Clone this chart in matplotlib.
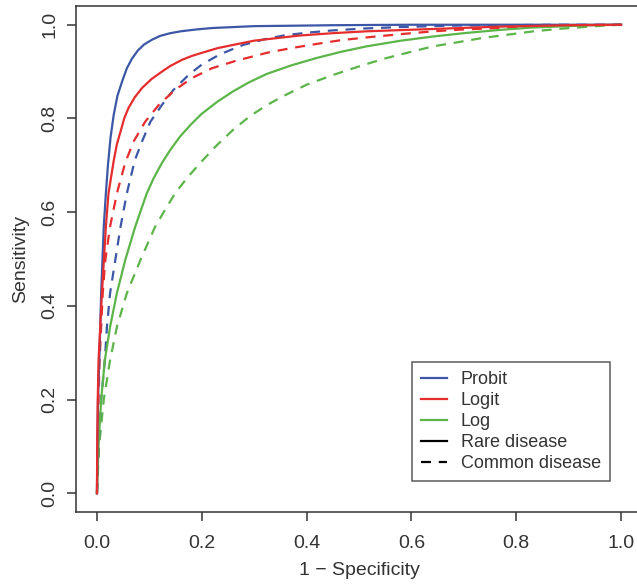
import matplotlib
matplotlib.use("Agg")
import matplotlib.pyplot as plt
from matplotlib.lines import Line2D

plt.rcParams['font.family'] = ['Liberation Sans', 'DejaVu Sans']

# ROC curves (1 - specificity, sensitivity)
probit_rare_x = [0, 0.0007, 0.002, 0.0045, 0.008, 0.013, 0.017, 0.021, 0.026, 0.032, 0.039, 0.048, 0.057, 0.067, 0.078,
                 0.09, 0.105, 0.12, 0.14, 0.16, 0.19, 0.22, 0.26, 0.3, 0.38, 0.45, 0.6, 1.0]
probit_rare_y = [0, 0.1, 0.2, 0.284, 0.427, 0.569, 0.64, 0.701, 0.76, 0.808, 0.848, 0.879, 0.907, 0.928, 0.945,
                 0.958, 0.968, 0.976, 0.982, 0.986, 0.990, 0.993, 0.995, 0.997, 0.998, 0.999, 1.0, 1.0]

logit_rare_x = [0, 0.0005, 0.0015, 0.003, 0.0095, 0.017, 0.022, 0.032, 0.038, 0.045, 0.052, 0.060, 0.072, 0.086, 0.104,
                0.124, 0.14, 0.162, 0.18, 0.2, 0.23, 0.26, 0.3, 0.387, 0.45, 0.515, 0.642, 0.769, 0.9, 1.0]
logit_rare_y = [0, 0.1, 0.2, 0.284, 0.427, 0.569, 0.64, 0.71, 0.745, 0.772, 0.80, 0.822, 0.845, 0.865, 0.884,
                0.90, 0.912, 0.925, 0.933, 0.94, 0.95, 0.957, 0.966, 0.977, 0.982, 0.986, 0.991, 0.996, 0.999, 1.0]

log_rare_x = [0, 0.003, 0.008, 0.015, 0.025, 0.038, 0.054, 0.073, 0.095, 0.108, 0.124, 0.14, 0.159, 0.18, 0.2, 0.23,
              0.26, 0.29, 0.324, 0.37, 0.419, 0.465, 0.515, 0.58, 0.642, 0.7, 0.769, 0.83, 0.897, 0.95, 1.0]
log_rare_y = [0, 0.1, 0.2, 0.284, 0.355, 0.427, 0.498, 0.569, 0.64, 0.672, 0.705, 0.733, 0.762, 0.788, 0.81, 0.836,
              0.858, 0.877, 0.895, 0.913, 0.929, 0.942, 0.954, 0.966, 0.975, 0.982, 0.989, 0.994, 0.997, 0.999, 1.0]

probit_common_x = [0, 0.003, 0.008, 0.015, 0.019, 0.025, 0.035, 0.045, 0.057, 0.072, 0.086, 0.102, 0.124, 0.146, 0.175,
                   0.2, 0.235, 0.279, 0.32, 0.356, 0.4, 0.451, 0.51, 0.578, 0.67, 0.769, 0.88, 1.0]
probit_common_y = [0, 0.1, 0.2, 0.284, 0.355, 0.427, 0.498, 0.569, 0.64, 0.71, 0.751, 0.793, 0.829, 0.861, 0.893,
                   0.915, 0.937, 0.957, 0.969, 0.977, 0.983, 0.988, 0.992, 0.995, 0.998, 0.999, 1.0, 1.0]

logit_common_x = [0, 0.001, 0.003, 0.005, 0.011, 0.016, 0.025, 0.038, 0.054, 0.070, 0.092, 0.118, 0.149, 0.181, 0.219,
                  0.265, 0.324, 0.37, 0.419, 0.465, 0.515, 0.58, 0.642, 0.7, 0.769, 0.83, 0.897, 1.0]
logit_common_y = [0, 0.1, 0.2, 0.284, 0.427, 0.498, 0.569, 0.64, 0.706, 0.751, 0.793, 0.829, 0.861, 0.886, 0.907,
                  0.923, 0.94, 0.95, 0.959, 0.967, 0.973, 0.98, 0.986, 0.99, 0.993, 0.996, 0.999, 1.0]

log_common_x = [0, 0.004, 0.013, 0.025, 0.038, 0.057, 0.083, 0.111, 0.13, 0.149, 0.172, 0.197, 0.228, 0.26, 0.292,
                0.325, 0.356, 0.4, 0.451, 0.5, 0.546, 0.595, 0.642, 0.69, 0.737, 0.785, 0.833, 0.88, 0.928, 0.965, 1.0]
log_common_y = [0, 0.1, 0.2, 0.284, 0.355, 0.427, 0.498, 0.569, 0.605, 0.64, 0.673, 0.705, 0.742, 0.776, 0.805,
                0.829, 0.848, 0.872, 0.893, 0.911, 0.927, 0.941, 0.954, 0.963, 0.972, 0.979, 0.986, 0.991, 0.995, 0.998, 1.0]

ticks = [0.0, 0.2, 0.4, 0.6, 0.8, 1.0]
tick_labels = ["0.0", "0.2", "0.4", "0.6", "0.8", "1.0"]

blue = "#3c57a6"
red = "#e62d2d"
green = "#5bb548"
dash = (0, (4.5, 3.5))
lw = 1.6
ink = "#333333"

fig = plt.figure(figsize=(6.37, 5.85), dpi=100)
# axes box runs past the right edge, as in the cropped original
ax = fig.add_axes([76 / 637, 1 - 512 / 585, 566 / 637, 506 / 585])

ax.plot(log_common_x, log_common_y, color=green, lw=lw, linestyle=dash)
ax.plot(probit_common_x, probit_common_y, color=blue, lw=lw, linestyle=dash)
ax.plot(logit_common_x, logit_common_y, color=red, lw=lw, linestyle=dash)
ax.plot(log_rare_x, log_rare_y, color=green, lw=lw)
ax.plot(probit_rare_x, probit_rare_y, color=blue, lw=lw)
ax.plot(logit_rare_x, logit_rare_y, color=red, lw=lw)

ax.set_xlim(-0.04, 1.04)
ax.set_ylim(-0.04, 1.04)
ax.set_xticks(ticks)
ax.set_xticklabels(tick_labels)
ax.set_yticks(ticks)
ax.set_yticklabels(tick_labels, rotation=90, va="center")
ax.tick_params(direction="out", length=6.5, width=1.1, color=ink,
               labelsize=14, labelcolor=ink)
ax.tick_params(axis="x", pad=10)
ax.tick_params(axis="y", pad=6)
for s in ax.spines.values():
    s.set_linewidth(1.1)
    s.set_color(ink)

ax.set_xlabel("1 \u2212 Specificity", fontsize=14, color=ink, labelpad=7)
ax.set_ylabel("Sensitivity", fontsize=14, color=ink, labelpad=9)

handles = [
    Line2D([], [], color=blue, lw=lw),
    Line2D([], [], color=red, lw=lw),
    Line2D([], [], color=green, lw=lw),
    Line2D([], [], color="black", lw=lw),
    Line2D([], [], color="black", lw=lw, linestyle=dash),
]
labels = ["Probit", "Logit", "Log", "Rare disease", "Common disease"]
leg = fig.legend(handles, labels, loc="upper left",
                 bbox_to_anchor=(412 / 637, 1 - 362 / 585),
                 fontsize=13, frameon=True, fancybox=False,
                 edgecolor=ink, handlelength=1.45, handletextpad=0.75,
                 labelspacing=0.22, borderpad=0.5, borderaxespad=0)
leg.get_frame().set_linewidth(1.1)
for t in leg.get_texts():
    t.set_color(ink)

fig.savefig("out.png", dpi=100)
